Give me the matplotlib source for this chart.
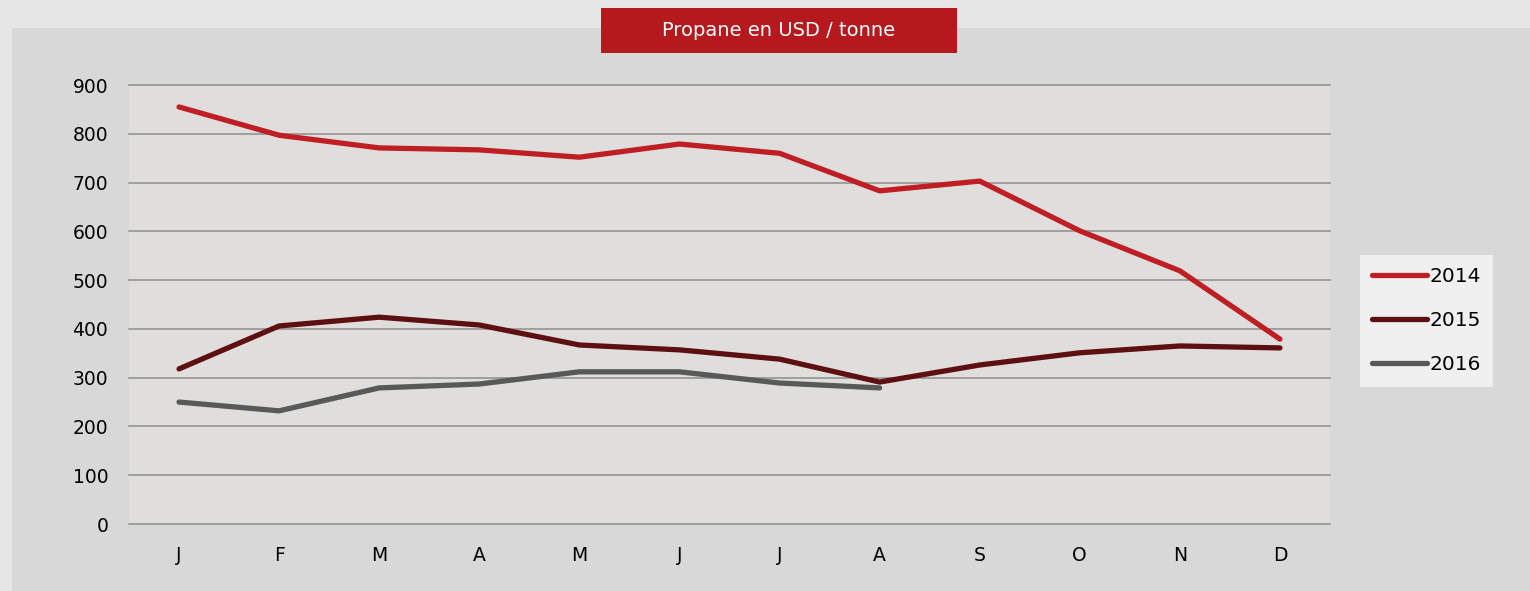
"""
Propane price per tonne, monthly, 2014-2016
"""
import matplotlib.pyplot as plt
from matplotlib.patches import Rectangle

months = ['J', 'F', 'M', 'A', 'M', 'J', 'J', 'A', 'S', 'O', 'N', 'D']
prices_2014 = [855, 797, 771, 767, 752, 779, 760, 683, 703, 601, 519, 379]
prices_2015 = [318, 406, 424, 408, 367, 357, 338, 291, 326, 351, 365, 361]
prices_2016 = [250, 232, 279, 287, 312, 312, 289, 279]
series_names = ['2014', '2015', '2016']
colors = ['#be1e24', '#5e0f12', '#595959']
yticks = [0, 100, 200, 300, 400, 500, 600, 700, 800, 900]

plt.rcParams['font.family'] = 'DejaVu Sans'

W, H = 1530, 591
fig = plt.figure(figsize=(W / 100, H / 100), dpi=100)
fig.patch.set_facecolor('#e6e6e6')

# inner grey panel (behind everything)
fig.patches.append(Rectangle((12 / W, 0), 1, 1 - 28 / H, transform=fig.transFigure,
                             facecolor='#d8d8d8', edgecolor='none', zorder=-10))

# plot area in pixels: x 129-1330, y 85-524
ax = fig.add_axes([129 / W, 1 - 524 / H, (1330 - 129) / W, (524 - 85) / H])
ax.set_facecolor('#dfdedc')

x = list(range(len(months)))
for vals, name, c in zip([prices_2014, prices_2015, prices_2016], series_names, colors):
    ax.plot(x[:len(vals)], vals, color=c, linewidth=3.8, label=name,
            solid_capstyle='round', solid_joinstyle='round', zorder=3)

ax.set_xlim(-0.5, 11.5)
ax.set_ylim(0, 900)
ax.set_yticks(yticks)
ax.set_xticks(x)
ax.set_xticklabels(months)
for y in yticks:
    ax.axhline(y, color='#8c8c8c', linewidth=1.1, zorder=1, clip_on=False)
for s in ax.spines.values():
    s.set_visible(False)
ax.tick_params(length=0, labelsize=13.5, colors='black')
ax.tick_params(axis='y', pad=15)
ax.tick_params(axis='x', pad=16)

leg = fig.legend(loc='upper left', bbox_to_anchor=(1360 / W, 1 - 255 / H),
                 frameon=True, fontsize=14.5, handlelength=2.75, handletextpad=0.1,
                 labelspacing=1.25, borderpad=0.6, fancybox=False, borderaxespad=0)
leg.get_frame().set_facecolor('#f0f0f0')
leg.get_frame().set_edgecolor('none')
leg.get_frame().set_alpha(1)

# title box
fig.patches.append(Rectangle((601 / W, 1 - 53 / H), (957 - 601) / W, 45 / H,
                             transform=fig.transFigure, facecolor='#b5191e',
                             edgecolor='none', zorder=5))
fig.text(779 / W, 1 - 31 / H, 'Propane en USD / tonne', color='white',
         fontsize=14, ha='center', va='center', zorder=6)

plt.savefig('out.png', dpi=100, facecolor=fig.get_facecolor())
